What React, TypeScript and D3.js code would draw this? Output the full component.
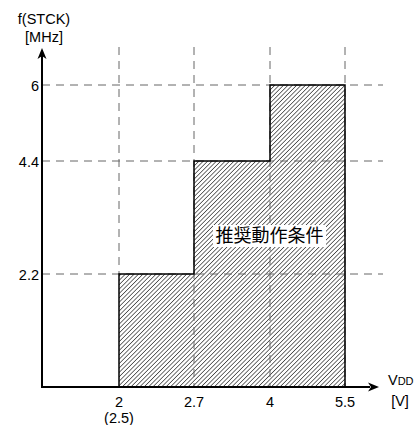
import React from "react";
import * as d3 from "d3";

const xTicks = [2, 2.7, 4, 5.5];
const xTickLabels = ["2", "2.7", "4", "5.5"];
const yTicks = [2.2, 4.4, 6];
const yTickLabels = ["2.2", "4.4", "6"];
// recommended operating region steps
const stepStarts = [2, 2.7, 4];
const stepEnds = [2.7, 4, 5.5];
const stepFreqs = [2.2, 4.4, 6];
const regionLabel = "推奨動作条件";

const W = 417;
const H = 425;
const axisX = 42;
const axisY = 387;

export default function App() {
  const x = d3.scaleLinear().domain([2, 2.7, 4, 5.5]).range([119, 194, 270, 345]);
  const y = d3.scaleLinear().domain([0, 2.2, 4.4, 6]).range([axisY, 274, 161, 85]);

  const pts: [number, number][] = [[x(stepStarts[0]), y(0)]];
  stepStarts.forEach((s, i) => {
    pts.push([x(s), y(stepFreqs[i])]);
    pts.push([x(stepEnds[i]), y(stepFreqs[i])]);
  });
  pts.push([x(stepEnds[stepEnds.length - 1]), y(0)]);
  const line = d3.line();
  const path = line(pts) + "Z";

  const font = "'Liberation Sans', Arial, sans-serif";
  const dash = "8,6";
  const gridColor = "#666";
  const fs = 14.5;

  return (
    <svg width={W} height={H} style={{ position: "absolute", left: 0, top: 0 }} fontFamily={font}>
      <defs>
        <pattern id="hatch" patternUnits="userSpaceOnUse" width="3.1" height="3.1" patternTransform="rotate(45)">
          <rect width="3.1" height="3.1" fill="#fff" />
          <line x1="0" y1="0" x2="0" y2="3.1" stroke="#222" strokeWidth="1.3" />
        </pattern>
      </defs>
      <rect width={W} height={H} fill="#fff" />
      <path d={path} fill="url(#hatch)" stroke="none" />
      {yTicks.map((t) => (
        <line key={"h" + t} x1={axisX} x2={383} y1={y(t)} y2={y(t)} stroke={gridColor} strokeDasharray={dash} strokeWidth={1} />
      ))}
      {xTicks.map((t, i) => (
        <line key={"v" + t} x1={x(t)} x2={x(t)} y1={47} y2={i === 0 ? y(stepFreqs[0]) : axisY} stroke={gridColor} strokeDasharray={dash} strokeWidth={1} />
      ))}
      <path d={path} fill="none" stroke="#000" strokeWidth={1.5} />
      <line x1={axisX} x2={axisX} y1={56} y2={axisY + 1} stroke="#000" strokeWidth={2} />
      <path d={`M${axisX},48 L${axisX - 4.5},59 L${axisX},56 L${axisX + 4.5},59 Z`} fill="#000" />
      <line x1={axisX - 1} x2={370} y1={axisY} y2={axisY} stroke="#000" strokeWidth={2} />
      <path d={`M379,${axisY} L368,${axisY - 4.5} L371,${axisY} L368,${axisY + 4.5} Z`} fill="#000" />
      {yTicks.map((t, i) => (
        <text key={"yt" + t} x={39} y={y(t) + 5.5} fontSize={fs} textAnchor="end">{yTickLabels[i]}</text>
      ))}
      {xTicks.map((t, i) => (
        <text key={"xt" + t} x={x(t)} y={406.5} fontSize={fs} textAnchor="middle">{xTickLabels[i]}</text>
      ))}
      <text x={x(2)} y={422.5} fontSize={fs} textAnchor="middle">(2.5)</text>
      <text x={axisX + 2} y={24} fontSize={fs} textAnchor="middle">f(STCK)</text>
      <text x={axisX + 2} y={42} fontSize={fs} textAnchor="middle">[MHz]</text>
      <text x={388} y={385} fontSize={fs}>V<tspan fontSize={11}>DD</tspan></text>
      <text x={400} y={406} fontSize={fs} textAnchor="middle">[V]</text>
      <rect x={213} y={225} width={113} height={22} fill="#fff" />
      <text x={269.5} y={242} fontSize={18} textAnchor="middle" fontFamily="'Noto Sans CJK JP', sans-serif">{regionLabel}</text>
    </svg>
  );
}
